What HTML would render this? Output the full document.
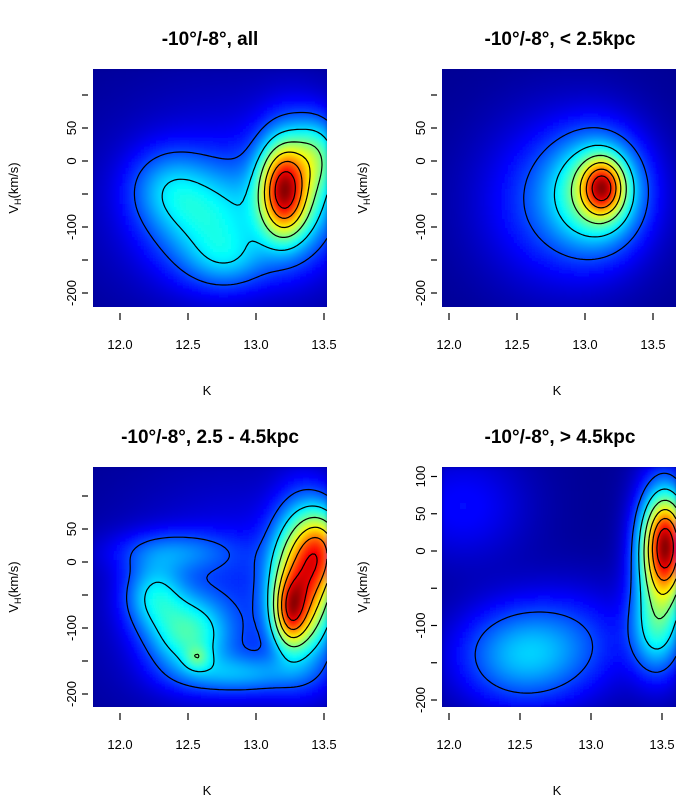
<!DOCTYPE html>
<html><head><meta charset="utf-8">
<style>
body{margin:0;background:#fff;width:700px;height:800px;overflow:hidden;font-family:"Liberation Sans",sans-serif}
svg text{font-family:"Liberation Sans",sans-serif}
</style></head>
<body>
<svg id="fig" width="700" height="800" viewBox="0 0 700 800" xmlns="http://www.w3.org/2000/svg">
<defs>
<filter id="blur" x="-5%" y="-5%" width="110%" height="110%"><feGaussianBlur stdDeviation="2"/></filter>
</defs>
</svg>
<script>
// ---- data: gaussian density components per panel (K, V_H, sigma K, sigma V, amplitude)
const tlK=[12.65,12.35,13.2,13.3,13.45,12.8,12.8];
const tlV=[-90,-40,-45,-40,10,-150,-60];
const tlSK=[0.28,0.2,0.11,0.2,0.12,0.2,0.6];
const tlSV=[55,40,45,65,35,30,100];
const tlLevel=[0.22,0.14,0.6,0.35,0.2,0.12,0.08];

const trK=[13.13,13.1,12.85];
const trV=[-40,-45,-60];
const trSK=[0.1,0.22,0.38];
const trSV=[28,55,80];
const trLevel=[0.55,0.35,0.16];

const blK=[13.25,13.35,13.5,12.5,12.25,12.57,12.9,12.4,12.9];
const blV=[-75,-30,20,-110,-50,-145,-170,15,-60];
const blSK=[0.08,0.15,0.12,0.2,0.15,0.06,0.3,0.3,0.6];
const blSV=[35,70,40,40,35,12,20,22,110];
const blLevel=[0.32,0.5,0.3,0.22,0.16,0.1,0.12,0.1,0.07];

const brK=[13.53,13.5,13.45,12.5,12.9,12.1];
const brV=[10,-20,-110,-140,-120,60];
const brSK=[0.1,0.13,0.12,0.3,0.3,0.3];
const brSV=[42,70,40,45,50,50];
const brLevel=[0.6,0.35,0.16,0.2,0.08,0.07];

const xTicks=[12.0,12.5,13.0,13.5];
const xTickLabels=["12.0","12.5","13.0","13.5"];
const yTicksA=[100,50,0,-50,-100,-150,-200];
const yLabelsA=["","50","0","","-100","","-200"];
const yTicksB=[100,50,0,-50,-100,-150,-200];
const yLabelsB=["100","50","0","","-100","","-200"];
const contourLevels=[0.13,0.27,0.42,0.57,0.72,0.87];
const titles=["-10°/-8°, all","-10°/-8°, < 2.5kpc","-10°/-8°, 2.5 - 4.5kpc","-10°/-8°, > 4.5kpc"];

const panels=[
 {name:"panel-all",x0:93,y0:69,w:234,h:238,kA:12.0,pxA:120,kB:13.5,pxB:324,vA:0,pyA:161,vB:-200,pyB:293,K:tlK,V:tlV,SK:tlSK,SV:tlSV,L:tlLevel,yt:yTicksA,yl:yLabelsA},
 {name:"panel-lt25",x0:442,y0:69,w:234,h:238,kA:12.0,pxA:449,kB:13.5,pxB:653,vA:0,pyA:161,vB:-200,pyB:293,K:trK,V:trV,SK:trSK,SV:trSV,L:trLevel,yt:yTicksA,yl:yLabelsA},
 {name:"panel-25-45",x0:93,y0:467,w:234,h:240,kA:12.0,pxA:120,kB:13.5,pxB:324,vA:0,pyA:562,vB:-200,pyB:694,K:blK,V:blV,SK:blSK,SV:blSV,L:blLevel,yt:yTicksA,yl:yLabelsA},
 {name:"panel-gt45",x0:442,y0:467,w:234,h:240,kA:12.0,pxA:449,kB:13.5,pxB:662,vA:0,pyA:551,vB:-200,pyB:700,K:brK,V:brV,SK:brSK,SV:brSV,L:brLevel,yt:yTicksB,yl:yLabelsB}
];
const NS="http://www.w3.org/2000/svg";
const svg=document.getElementById('fig');
function el(t,a,p){const e=document.createElementNS(NS,t);for(const k in a)e.setAttribute(k,a[k]);(p||svg).appendChild(e);return e;}
const JET=[[0,0,127],[0,0,255],[0,127,255],[0,255,255],[127,255,127],[255,255,0],[255,127,0],[255,0,0],[127,0,0]];
function jet(t){t=Math.max(0,Math.min(1,t))*(JET.length-1);const i=Math.min(JET.length-2,Math.floor(t)),f=t-i;
 const a=JET[i],b=JET[i+1];return `rgb(${Math.round(a[0]+f*(b[0]-a[0]))},${Math.round(a[1]+f*(b[1]-a[1]))},${Math.round(a[2]+f*(b[2]-a[2]))})`;}

panels.forEach((p,pi)=>{
 const sx=k=>p.pxA+(k-p.kA)*(p.pxB-p.pxA)/(p.kB-p.kA);
 const sy=v=>p.pyA+(v-p.vA)*(p.pyB-p.pyA)/(p.vB-p.vA);
 const ik=x=>p.kA+(x-p.pxA)*(p.kB-p.kA)/(p.pxB-p.pxA);
 const iv=y=>p.vA+(y-p.pyA)*(p.vB-p.vA)/(p.pyB-p.pyA);
 const dens=(k,v)=>{let s=0;for(let i=0;i<p.K.length;i++){const a=(k-p.K[i])/p.SK[i],b=(v-p.V[i])/p.SV[i];s+=p.L[i]*Math.exp(-0.5*(a*a+b*b));}return s;};
 const g=el('g',{});
 
 
 const cid='clip'+pi;
 const cp=el('clipPath',{id:cid},svg.querySelector('defs'));
 el('rect',{x:p.x0,y:p.y0,width:p.w,height:p.h},cp);
 const C=3, nx=Math.ceil(p.w/C), ny=Math.ceil(p.h/C);
 const G=[];let mx=0;
 for(let j=0;j<=ny;j++){const row=[];for(let i=0;i<=nx;i++){const d=dens(ik(p.x0+i*C),iv(p.y0+j*C));row.push(d);if(d>mx)mx=d;}G.push(row);}
 const heat=el('g',{'clip-path':'url(#'+cid+')'},g);
 const hb=el('g',{filter:'url(#blur)'},heat);
 
 
 el('rect',{x:p.x0-5,y:p.y0-5,width:p.w+10,height:p.h+10,fill:jet(0.02)},hb);
 for(let j=0;j<ny;j++){
  for(let i=0;i<nx;i++){
   const d=(G[j][i]+G[j][i+1]+G[j+1][i]+G[j+1][i+1])/4/mx;
   const t=0.02+0.98*Math.pow(d,0.9)+0.06*Math.sqrt(d)*(1-d);
   el('rect',{x:p.x0+i*C,y:p.y0+j*C,width:C+0.6,height:C+0.6,fill:jet(Math.min(1,t))},hb);
  }
 }
 contourLevels.forEach(lv=>{
  const L=lv*mx;let dstr='';
  const ip=(a,b)=>(L-a)/(b-a);
  for(let j=0;j<ny;j++){
   for(let i=0;i<nx;i++){
    const a=G[j][i],b=G[j][i+1],c=G[j+1][i+1],d=G[j+1][i];
    const x=p.x0+i*C,y=p.y0+j*C;const pts=[];
    if((a>L)!==(b>L))pts.push([x+C*ip(a,b),y]);
    if((b>L)!==(c>L))pts.push([x+C,y+C*ip(b,c)]);
    if((d>L)!==(c>L))pts.push([x+C*ip(d,c),y+C]);
    if((a>L)!==(d>L))pts.push([x,y+C*ip(a,d)]);
    for(let q=0;q+1<pts.length;q+=2){dstr+='M'+pts[q][0].toFixed(1)+','+pts[q][1].toFixed(1)+'L'+pts[q+1][0].toFixed(1)+','+pts[q+1][1].toFixed(1);}
   }
  }
  const c=el('path',{d:dstr||'M0,0',fill:'none',stroke:'#000','stroke-width':1.2},heat);
  
  
 });
 const yb=p.y0+p.h;
 xTicks.forEach((k,i)=>{
  el('line',{x1:sx(k),x2:sx(k),y1:yb+6,y2:yb+13,stroke:'#000','stroke-width':1.2},g);
  const t=el('text',{x:sx(k),y:yb+42,'text-anchor':'middle','font-size':13},g);t.textContent=xTickLabels[i];
  
  
 });
 p.yt.forEach((v,i)=>{
  const y=sy(v); if(y<p.y0-2||y>yb+2) return;
  el('line',{x1:p.x0-11,x2:p.x0-5,y1:y,y2:y,stroke:'#000','stroke-width':1.2},g);
  if(p.yl[i]){const t=el('text',{x:p.x0-17,y:y,'text-anchor':'middle','font-size':13,transform:'rotate(-90 '+(p.x0-17)+' '+y+')'},g);t.textContent=p.yl[i];
  
  }
 });
 const cx=p.x0+p.w/2+(pi%2?1:0);
 const tt=el('text',{x:cx,y:p.y0-24,'text-anchor':'middle','font-size':19,'font-weight':'bold'},g);tt.textContent=titles[pi];
 
 
 const xl=el('text',{x:cx-3,y:yb+88,'text-anchor':'middle','font-size':13},g);xl.textContent='K';
 
 
 const ly=p.y0+p.h/2, lx=p.x0-75;
 const yl=el('text',{x:lx,y:ly,'text-anchor':'middle','font-size':13,transform:'rotate(-90 '+lx+' '+ly+')'},g);
 yl.innerHTML='V<tspan font-size="9" dy="3">H</tspan><tspan dy="-3">(km/s)</tspan>';
 
 
});
</script>
</body></html>
